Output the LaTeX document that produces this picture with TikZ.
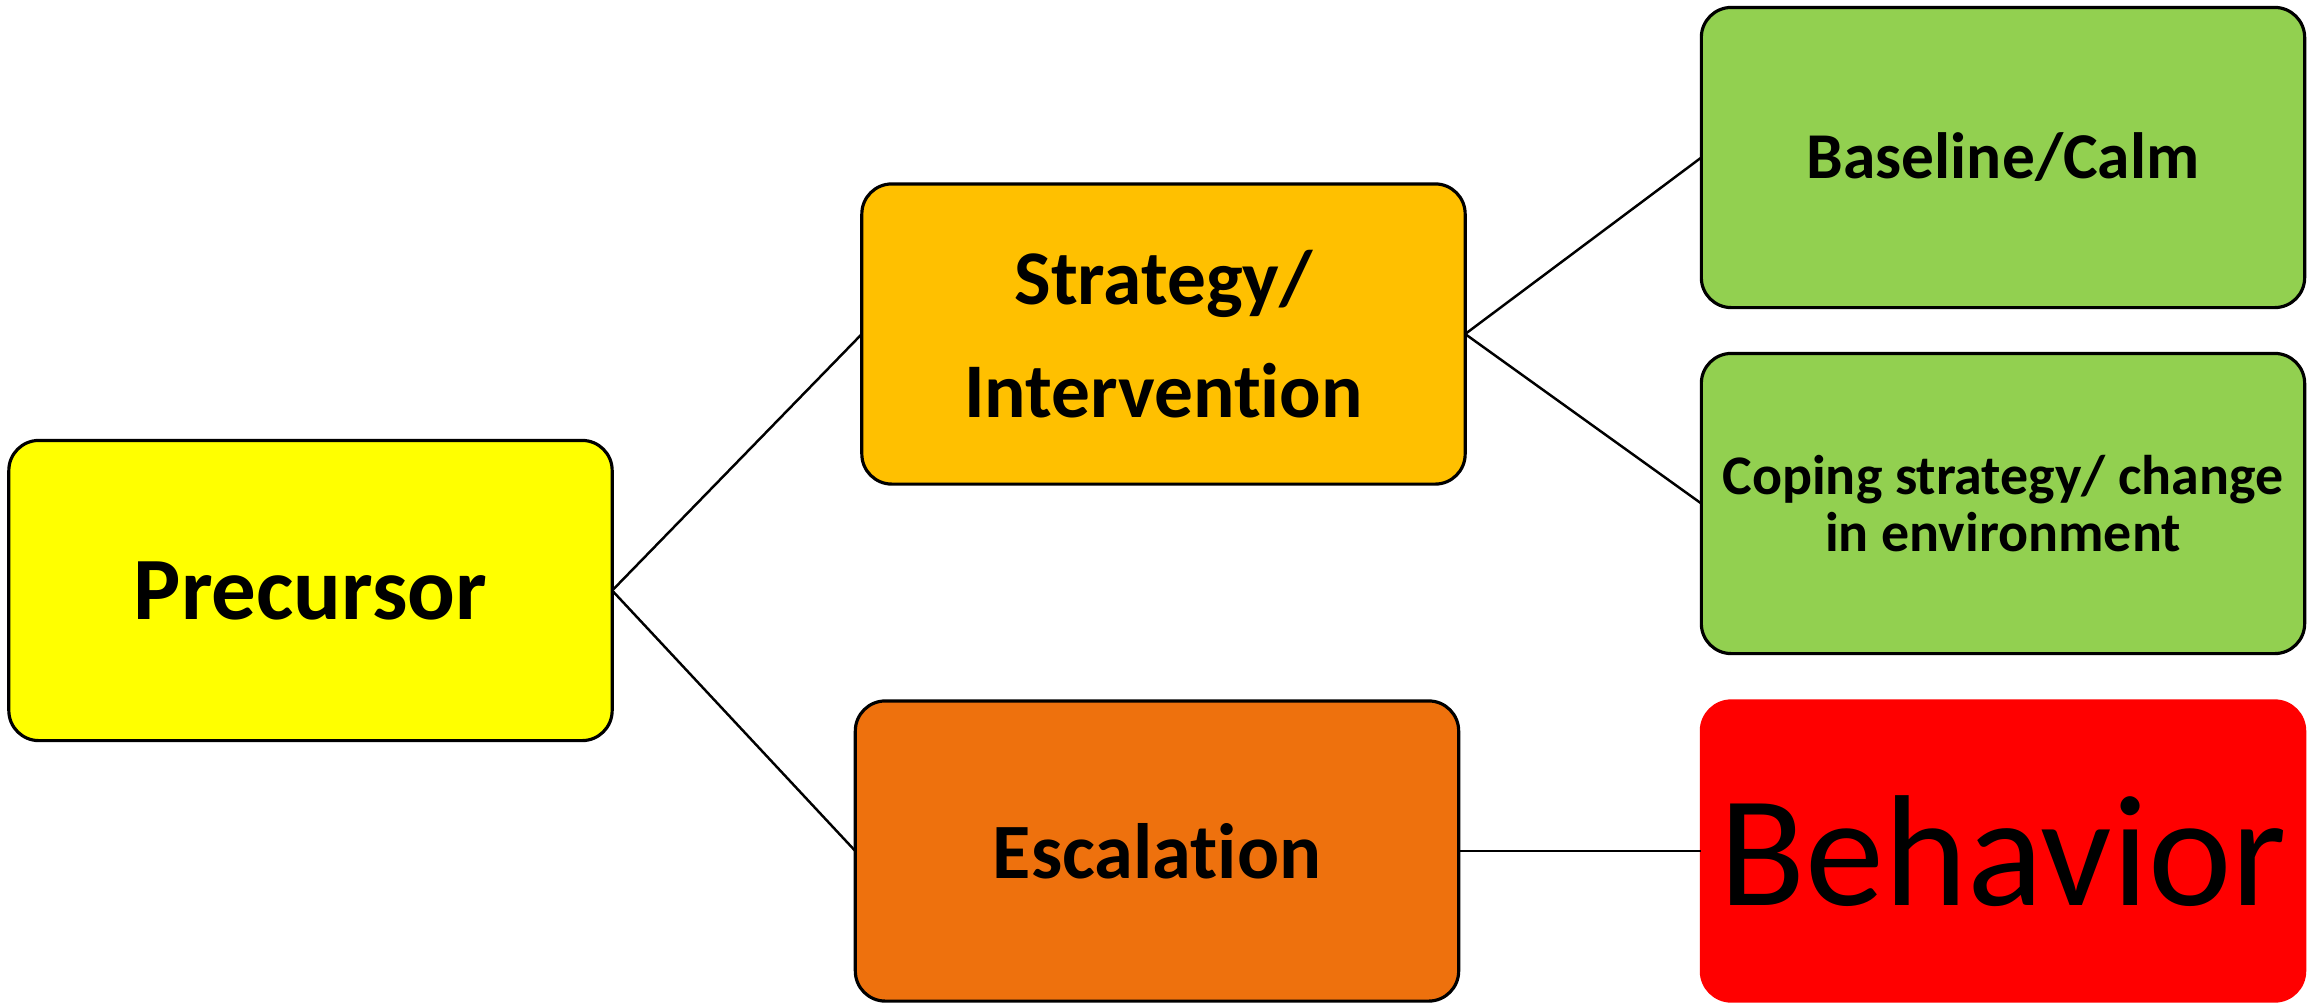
\documentclass[tikz,border=0pt]{standalone}
\usepackage{fontspec}
\setmainfont{Carlito}[Ligatures={NoCommon}]
\definecolor{cYellow}{HTML}{FFFF00}
\definecolor{cGold}{HTML}{FFC000}
\definecolor{cOrange}{HTML}{EE710D}
\definecolor{cGreen}{HTML}{92D050}
\definecolor{cRed}{HTML}{FF0000}
\tikzset{
  box/.style={draw=black, line width=0.9pt, rounded corners=0.3cm, minimum width=6.03cm, minimum height=3.0cm, inner sep=0pt, outer sep=0pt, align=center, text=black},
  conn/.style={draw=black, line width=0.7pt}
}
\begin{document}
\begin{tikzpicture}[x=0.01cm,y=-0.01cm]
\useasboundingbox (0,0) rectangle (2323,1005);
\node[box, fill=cYellow, font=\fontsize{25.3}{30}\selectfont\bfseries] (pre) at (310.5,590.5) {Precursor};
\node[box, fill=cGold, font=\fontsize{22}{32}\selectfont\bfseries] (str) at (1163.5,334) {Strategy/\\Intervention};
\node[box, fill=cOrange, font=\fontsize{22.3}{28}\selectfont\bfseries] (esc) at (1157,851) {Escalation};
\node[box, fill=cGreen, font=\fontsize{18.6}{24}\selectfont\bfseries] (base) at (2003,157.5) {Baseline/Calm};
\node[box, fill=cGreen, font=\fontsize{15.9}{16}\selectfont\bfseries] (cope) at (2003,503.5) {Coping strategy/ change\\in environment};
\node[box, draw=cRed, fill=cRed, font=\fontsize{45}{50}\selectfont] (beh) at (2003,851) {Behavior};
\draw[conn] (pre.east) -- (str.west);
\draw[conn] (pre.east) -- (esc.west);
\draw[conn] (str.east) -- (base.west);
\draw[conn] (str.east) -- (cope.west);
\draw[conn] (esc.east) -- (beh.west);
\end{tikzpicture}
\end{document}
